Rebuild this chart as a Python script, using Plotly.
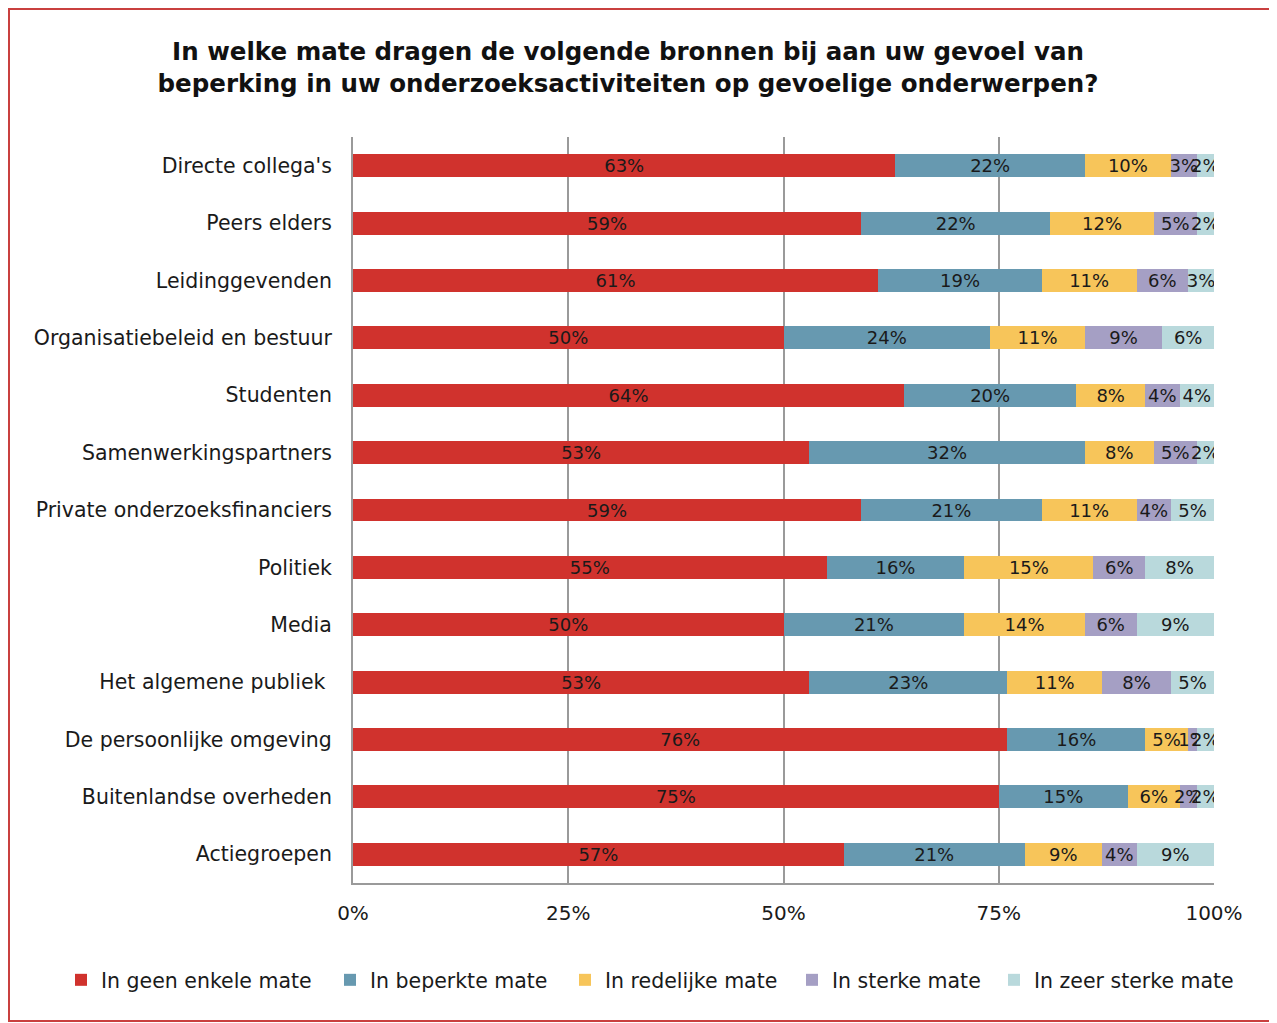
"""Gestapelde 100%-staafgrafiek: bronnen van beperking in onderzoek op gevoelige onderwerpen."""
import plotly.graph_objects as go

CATEGORIES = [
    "Directe collega's",
    "Peers elders",
    "Leidinggevenden",
    "Organisatiebeleid en bestuur",
    "Studenten",
    "Samenwerkingspartners",
    "Private onderzoeksfinanciers",
    "Politiek",
    "Media",
    "Het algemene publiek ",
    "De persoonlijke omgeving",
    "Buitenlandse overheden",
    "Actiegroepen",
]

SERIES_NAMES = [
    "In geen enkele mate",
    "In beperkte mate",
    "In redelijke mate",
    "In sterke mate",
    "In zeer sterke mate",
]

geen_enkele = [63, 59, 61, 50, 64, 53, 59, 55, 50, 53, 76, 75, 57]
beperkte = [22, 22, 19, 24, 20, 32, 21, 16, 21, 23, 16, 15, 21]
redelijke = [10, 12, 11, 11, 8, 8, 11, 15, 14, 11, 5, 6, 9]
sterke = [3, 5, 6, 9, 4, 5, 4, 6, 6, 8, 1, 2, 4]
zeer_sterke = [2, 2, 3, 6, 4, 2, 5, 8, 9, 5, 2, 2, 9]

SERIES_VALUES = [geen_enkele, beperkte, redelijke, sterke, zeer_sterke]
COLORS = ["#D0322D", "#6799B0", "#F7C55A", "#A59FC4", "#B9D9DC"]

TITLE = ("<b>In welke mate dragen de volgende bronnen bij aan uw gevoel van<br>"
         "beperking in uw onderzoeksactiviteiten op gevoelige onderwerpen?</b>")

FONT = "DejaVu Sans"
OFF = 8  # marge van de pagina rond de grafiek
W, H = 1277 - OFF, 1023 - OFF
# plotgebied in pixels (schermcoordinaten min de paginamarge)
L, R, T, B = 353 - OFF, 1214 - OFF, 137 - OFF, 883 - OFF

# linkerrand van elk legendavakje (scherm)
LEGEND_X = [80, 349, 584, 811, 1013]
LEGEND_Y = 980

fig = go.Figure()
legend_layout = {}
for i, (name, vals, col) in enumerate(zip(SERIES_NAMES, SERIES_VALUES, COLORS)):
    key = "legend" if i == 0 else f"legend{i + 1}"
    fig.add_trace(go.Bar(
        y=CATEGORIES,
        x=vals,
        name=name,
        orientation="h",
        marker=dict(color=col, line=dict(width=0)),
        text=[f"{v}%" for v in vals],
        textposition="inside",
        insidetextanchor="middle",
        textangle=0,
        textfont=dict(family=FONT, size=18, color="#1a1a1a"),
        legend=key,
    ))
    # een legenda per reeks, zodat elk item op zijn eigen plek staat
    legend_layout[key] = dict(
        orientation="h",
        xref="container",
        yref="container",
        x=(LEGEND_X[i] - OFF - 19) / W,
        xanchor="left",
        y=1 - (LEGEND_Y - OFF) / H,
        yanchor="middle",
        font=dict(family=FONT, size=20.5),
        itemwidth=30,
        bgcolor="rgba(0,0,0,0)",
    )

fig.update_layout(
    width=W,
    height=H,
    barmode="stack",
    bargap=0.6,
    plot_bgcolor="white",
    paper_bgcolor="white",
    font=dict(family=FONT, size=20, color="#1a1a1a"),
    margin=dict(l=L, r=W - R, t=T, b=H - B, pad=0),
    uniformtext=dict(mode="show", minsize=18),
    title=dict(
        text=TITLE,
        x=(628 - OFF) / W,
        xanchor="center",
        y=1 - (60 - OFF) / H,
        yanchor="middle",
        font=dict(family=FONT, size=24.5, color="#111111"),
    ),
    showlegend=True,
    **legend_layout,
)

fig.update_xaxes(
    range=[0, 100],
    tickvals=[0, 25, 50, 75, 100],
    ticktext=["0%", "25%", "50%", "75%", "100%"],
    showgrid=True,
    gridcolor="#9a9a9a",
    gridwidth=2,
    showline=True,
    linecolor="#9a9a9a",
    linewidth=2,
    zeroline=False,
    ticks="",
    ticklabelstandoff=11,
    tickfont=dict(size=20),
)
fig.update_yaxes(
    autorange="reversed",
    showgrid=False,
    showline=True,
    linecolor="#9a9a9a",
    linewidth=2,
    ticks="",
    ticklabelstandoff=15,
    tickfont=dict(size=20.5),
)

# rode kader rond de grafiek
fig.add_shape(
    type="rect",
    xref="paper", yref="paper",
    x0=(1 - L) / (R - L), x1=(W - 1 - L) / (R - L),
    y0=(B - (H - 2)) / (B - T), y1=(B - 1) / (B - T),
    line=dict(color="#C9403F", width=2),
    layer="below",
)

fig.write_html("out.html")
